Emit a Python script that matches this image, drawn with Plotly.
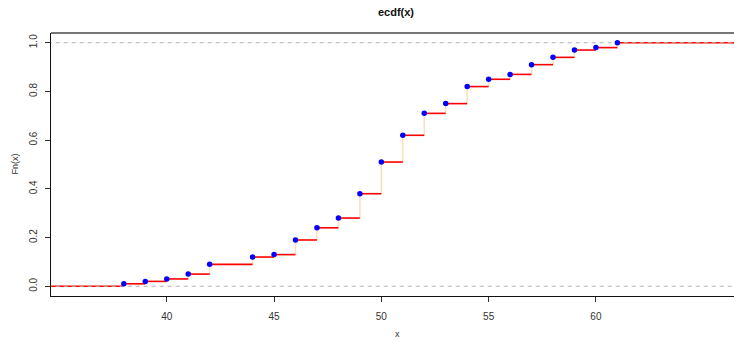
import plotly.graph_objects as go

# Sorted sample values and their empirical CDF heights
x_vals = [38, 39, 40, 41, 42, 44, 45, 46, 47, 48, 49, 50, 51, 52, 53, 54, 55, 56, 57, 58, 59, 60, 61]
fn_vals = [0.01, 0.02, 0.03, 0.05, 0.09, 0.12, 0.13, 0.19, 0.24, 0.28, 0.38, 0.51, 0.62,
           0.71, 0.75, 0.82, 0.85, 0.87, 0.91, 0.94, 0.97, 0.98, 1.00]
x_ticks = [40, 45, 50, 55, 60]
y_ticks = [0.0, 0.2, 0.4, 0.6, 0.8, 1.0]

W, H = 734, 340
L, T, B, R = 51, 33, 44, 0
x_lo, x_hi = 34.606, 66.434
y_lo, y_hi = -0.04, 1.04

# Horizontal pieces of the step function
hx, hy = [], []
hx += [x_lo - 5, x_vals[0], None]
hy += [0, 0, None]
for i, xv in enumerate(x_vals):
    nxt = x_vals[i + 1] if i + 1 < len(x_vals) else x_hi + 5
    hx += [xv, nxt, None]
    hy += [fn_vals[i], fn_vals[i], None]

# Vertical jumps
vx, vy = [], []
prev = 0.0
for xv, fv in zip(x_vals, fn_vals):
    vx += [xv, xv, None]
    vy += [prev, fv, None]
    prev = fv

fig = go.Figure()
fig.add_trace(go.Scatter(x=vx, y=vy, mode="lines",
                         line=dict(color="#FFDDB8", width=1.5), hoverinfo="skip"))
fig.add_trace(go.Scatter(x=hx, y=hy, mode="lines",
                         line=dict(color="#FF0000", width=1.6), hoverinfo="skip"))
# Reference lines at 0 and 1
for h in (0, 1):
    fig.add_trace(go.Scatter(x=[x_lo - 5, x_hi + 5], y=[h, h], mode="lines",
                             line=dict(color="#B3B3B3", width=1, dash="4px,4px"),
                             hoverinfo="skip"))
fig.add_trace(go.Scatter(x=x_vals, y=fn_vals, mode="markers",
                         marker=dict(color="#0000FF", size=5.5, line=dict(width=0)),
                         hoverinfo="skip"))

font = "Liberation Sans, Arial, Helvetica, sans-serif"
fig.update_layout(
    width=W, height=H,
    margin=dict(l=L, r=R, t=T, b=B),
    paper_bgcolor="white", plot_bgcolor="white",
    showlegend=False,
    font=dict(family=font, size=10, color="#222222"),
    title=dict(text="<b>ecdf(x)</b>", xref="container", yref="container",
               x=396 / W, y=1 - 12 / H, xanchor="center", yanchor="middle",
               font=dict(family=font, size=11, color="#111111")),
    xaxis=dict(range=[x_lo, x_hi], showgrid=False, zeroline=False,
               showline=True, linecolor="#111111", linewidth=1.2,
               tickmode="array", tickvals=x_ticks, ticktext=[str(t) for t in x_ticks],
               ticks="outside", ticklen=5, tickcolor="#333333", tickwidth=1,
               ticklabelstandoff=6, tickfont=dict(size=10, color="#333333")),
    yaxis=dict(range=[y_lo, y_hi], showgrid=False, zeroline=False,
               showline=True, linecolor="#111111", linewidth=1.2,
               tickmode="array", tickvals=y_ticks, ticktext=[f"{t:.1f}" for t in y_ticks],
               ticks="outside", ticklen=5, tickcolor="#333333", tickwidth=1,
               tickangle=-90, ticklabelstandoff=4, tickfont=dict(size=10, color="#333333")),
    shapes=[dict(type="line", xref="paper", yref="paper", x0=0, x1=1, y0=1, y1=1,
                 line=dict(color="#777777", width=2))],
    annotations=[
        dict(text="x", xref="paper", yref="paper", x=(397 - L) / (W - L - R),
             y=(340 - B - 334) / (H - T - B), showarrow=False,
             xanchor="center", yanchor="middle", font=dict(size=9, color="#333333")),
        dict(text="Fn(x)", xref="paper", yref="paper", x=(14 - L) / (W - L - R),
             y=0.5, showarrow=False, textangle=-90,
             xanchor="center", yanchor="middle", font=dict(size=9, color="#333333")),
    ],
)

fig.write_html("out.html")
